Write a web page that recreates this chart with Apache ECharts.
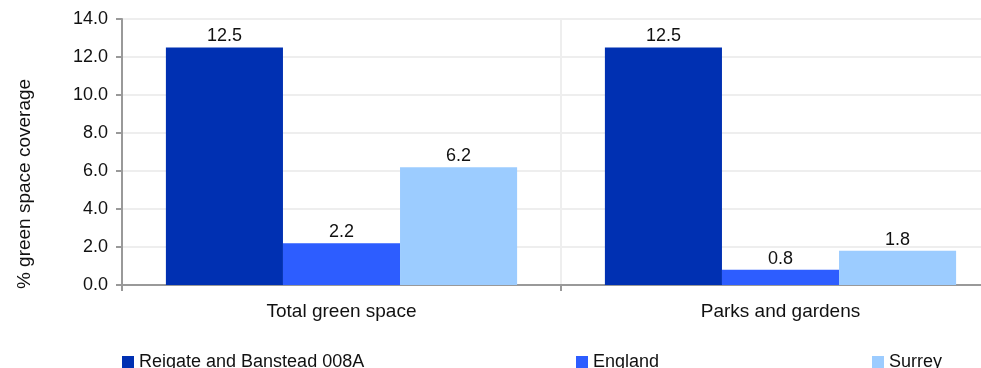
<!DOCTYPE html>
<html><head><meta charset="utf-8">
<script src="https://cdn.jsdelivr.net/npm/echarts@6/dist/echarts.min.js"></script>
<style>html,body{margin:0;padding:0;background:#fff}#c{width:981px;height:368px}</style>
</head><body><div id="c"></div>
<script>
const categories = ["Total green space", "Parks and gardens"];
const seriesNames = ["Reigate and Banstead 008A", "England", "Surrey"];
const reigate = [12.5, 12.5];
const england = [2.2, 0.8];
const surrey = [6.2, 1.8];
const colors = ["#0030B2", "#2D5DFF", "#9CCCFF"];
const font = "Liberation Sans, Arial, sans-serif";
const chart = echarts.init(document.getElementById('c'));
const vals = [reigate, england, surrey];
const legendLefts = [122, 576, 872];
chart.setOption({
  animation: false,
  textStyle: {fontFamily: font},
  grid: {left: 122, right: -19, top: 19, bottom: 83, containLabel: false, outerBoundsMode: 'none'},
  legend: seriesNames.map((n, i) => ({
    data: [n], left: legendLefts[i], top: 353, padding: 0, itemWidth: 12, itemHeight: 12, icon: 'rect',
    textStyle: {fontSize: 18, color: '#111', fontFamily: font}, itemGap: 0
  })),
  xAxis: {
    type: 'category', data: categories,
    axisLine: {lineStyle: {color: '#999', width: 2}},
    axisTick: {show: true, length: 6, lineStyle: {color: '#999', width: 2}},
    axisLabel: {fontSize: 19, color: '#111', margin: 17},
    splitLine: {show: true, lineStyle: {color: '#eee', width: 2}}
  },
  yAxis: {
    type: 'value', min: 0, max: 14, interval: 2,
    name: '% green space coverage', nameLocation: 'middle', nameGap: 88,
    nameTextStyle: {fontSize: 19, color: '#111', padding: [0, 64, 0, 0]},
    axisLine: {show: true, lineStyle: {color: '#999', width: 2}},
    axisTick: {show: true, length: 6, lineStyle: {color: '#999', width: 2}},
    axisLabel: {fontSize: 18, color: '#111', margin: 14, formatter: v => v.toFixed(1)},
    splitLine: {lineStyle: {color: '#eee', width: 2}}
  },
  series: seriesNames.map((n, i) => ({
    name: n, type: 'bar', data: vals[i], barGap: '0%', barCategoryGap: '20%',
    itemStyle: {color: colors[i]},
    label: {show: true, position: 'top', distance: 2, fontSize: 18, color: '#111', formatter: p => p.value.toFixed(1)}
  }))
});
</script></body></html>
